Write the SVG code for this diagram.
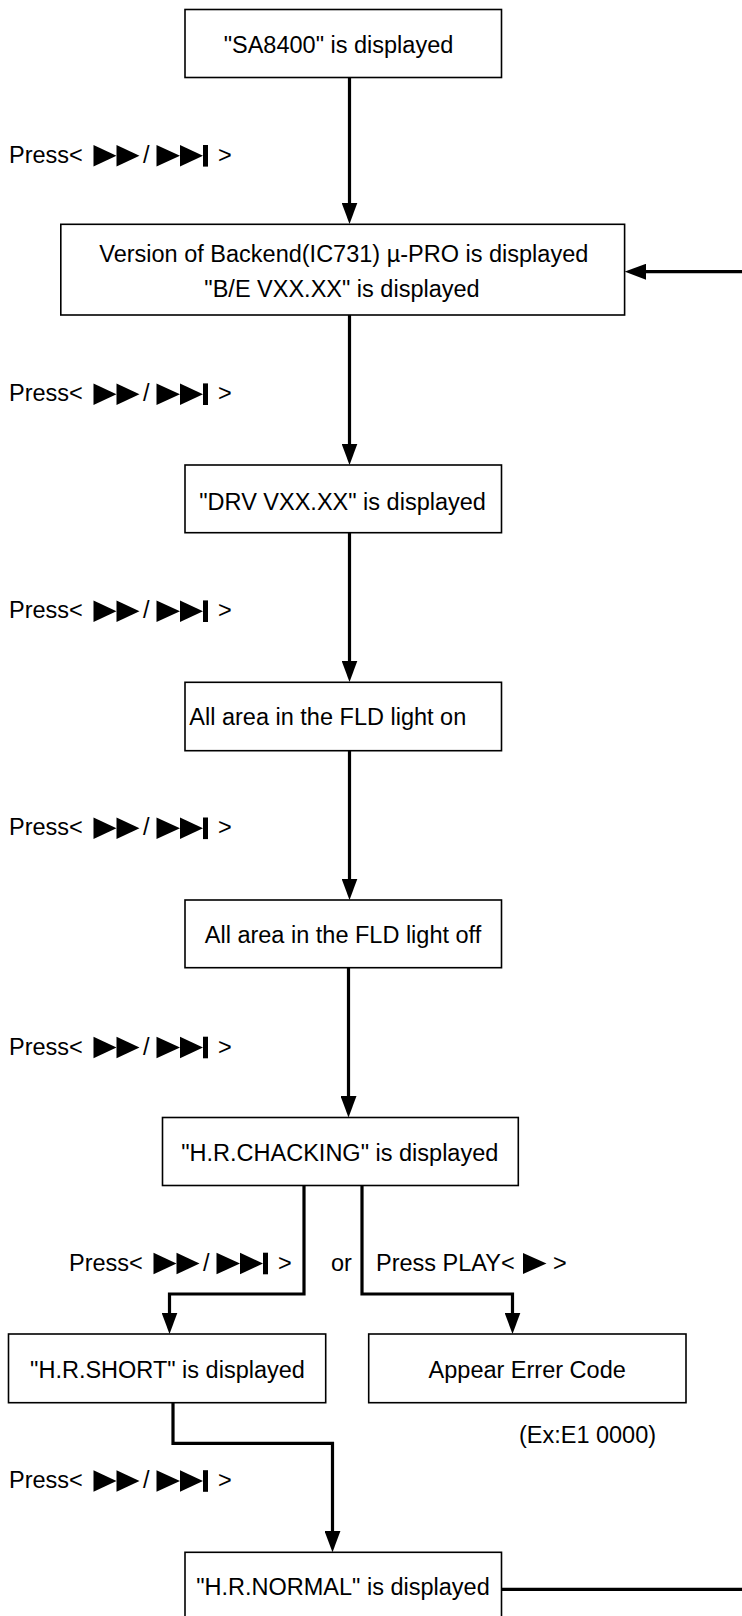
<svg xmlns="http://www.w3.org/2000/svg" xmlns:xlink="http://www.w3.org/1999/xlink" width="742" height="1616" viewBox="0 0 742 1616">
<style>
.box{fill:#fff;stroke:#000;stroke-width:1.6}
.t{font-family:"Liberation Sans",Arial,Helvetica,sans-serif;font-size:23.5px;fill:#000}
.m{text-anchor:middle}
.c{fill:none;stroke:#000;stroke-width:3.2;stroke-linejoin:miter;marker-end:url(#ah)}
.k{fill:#000}
</style>
<defs>
<marker id="ah" viewBox="0 0 21.5 16" refX="13.5" refY="8" markerWidth="21.5" markerHeight="16" markerUnits="userSpaceOnUse" orient="auto">
<path d="M0,0 L21.5,8 L0,16 Z" fill="#000"/>
</marker>
<g id="ff" class="k">
<polygon points="0,-10.8 23,0 0,10.8"/>
<polygon points="23,-10.8 46,0 23,10.8"/>
<polygon points="63,-10.8 86.5,0 63,10.8"/>
<polygon points="86.5,-10.8 109.5,0 86.5,10.8"/>
<rect x="109.5" y="-10.8" width="5" height="21.6"/>
</g>
</defs>
<rect width="742" height="1616" fill="#fff"/>

<g id="connectors">
<path class="c" d="M349.5,77.3 V216"/>
<path class="c" d="M349.5,315 V457"/>
<path class="c" d="M349.5,532.7 V674"/>
<path class="c" d="M349.5,750.7 V892"/>
<path class="c" d="M348.5,967.7 V1109.5"/>
<path class="c" d="M304,1185.5 V1294 H169.5 V1326"/>
<path class="c" d="M362,1185.5 V1294 H512.5 V1326"/>
<path class="c" d="M173,1402.7 V1443.3 H332.5 V1544.3"/>
<path class="c" d="M501.7,1589.3 H745 V271.7 H632.7"/>
</g>

<g id="n1"><rect class="box" x="185" y="9.5" width="316.5" height="68"/><text class="t m" x="338.5" y="53">"SA8400" is displayed</text></g>
<g id="n2"><rect class="box" x="60.8" y="224.3" width="563.8" height="90.7"/><text class="t m" x="343.8" y="261.7">Version of Backend(IC731) µ-PRO is displayed</text><text class="t m" x="342" y="296.7">"B/E VXX.XX" is displayed</text></g>
<g id="n3"><rect class="box" x="185" y="465" width="316.5" height="67.7"/><text class="t m" x="342.6" y="510">"DRV VXX.XX" is displayed</text></g>
<g id="n4"><rect class="box" x="185" y="682.3" width="316.5" height="68.4"/><text class="t" x="189.3" y="725">All area in the FLD light on</text></g>
<g id="n5"><rect class="box" x="185" y="900" width="316.5" height="67.7"/><text class="t m" x="343" y="943.4">All area in the FLD light off</text></g>
<g id="n6"><rect class="box" x="162.5" y="1117.5" width="355.8" height="68"/><text class="t m" x="339.8" y="1160.7">"H.R.CHACKING" is displayed</text></g>
<g id="n7"><rect class="box" x="8.5" y="1334" width="317.2" height="68.7"/><text class="t m" x="167.5" y="1377.7">"H.R.SHORT" is displayed</text></g>
<g id="n8"><rect class="box" x="368.7" y="1334" width="317.3" height="68.7"/><text class="t m" x="527.2" y="1377.7">Appear Errer Code</text></g>
<g id="n9"><rect class="box" x="185" y="1552.3" width="316.5" height="68"/><text class="t m" x="343" y="1595">"H.R.NORMAL" is displayed</text></g>

<g id="labels">
<g id="l1"><text class="t" x="9" y="163.3">Press&lt;</text><use xlink:href="#ff" href="#ff" x="93.5" y="155.8"/><text class="t" x="143" y="163.3">/</text><text class="t" x="218" y="163.3">&gt;</text></g>
<g id="l2"><text class="t" x="9" y="401.2">Press&lt;</text><use xlink:href="#ff" href="#ff" x="93.5" y="394.2"/><text class="t" x="143" y="401.2">/</text><text class="t" x="218" y="401.2">&gt;</text></g>
<g id="l3"><text class="t" x="9" y="618.2">Press&lt;</text><use xlink:href="#ff" href="#ff" x="93.5" y="611.2"/><text class="t" x="143" y="618.2">/</text><text class="t" x="218" y="618.2">&gt;</text></g>
<g id="l4"><text class="t" x="9" y="835.3">Press&lt;</text><use xlink:href="#ff" href="#ff" x="93.5" y="828.3"/><text class="t" x="143" y="835.3">/</text><text class="t" x="218" y="835.3">&gt;</text></g>
<g id="l5"><text class="t" x="9" y="1054.5">Press&lt;</text><use xlink:href="#ff" href="#ff" x="93.5" y="1047.5"/><text class="t" x="143" y="1054.5">/</text><text class="t" x="218" y="1054.5">&gt;</text></g>
<g id="l6"><text class="t" x="69" y="1270.5">Press&lt;</text><use xlink:href="#ff" href="#ff" x="153.5" y="1263.5"/><text class="t" x="203" y="1270.5">/</text><text class="t" x="278" y="1270.5">&gt;</text></g>
<g id="l6b"><text class="t" x="331" y="1270.5">or</text><text class="t" x="376" y="1270.5">Press PLAY&lt;</text><polygon class="k" points="523,1253 546.5,1263.5 523,1274"/><text class="t" x="553" y="1270.5">&gt;</text></g>
<g id="l7"><text class="t" x="9" y="1488">Press&lt;</text><use xlink:href="#ff" href="#ff" x="93.5" y="1481"/><text class="t" x="143" y="1488">/</text><text class="t" x="218" y="1488">&gt;</text></g>
<text class="t m" x="587.5" y="1443.4">(Ex:E1 0000)</text>
</g>
</svg>
